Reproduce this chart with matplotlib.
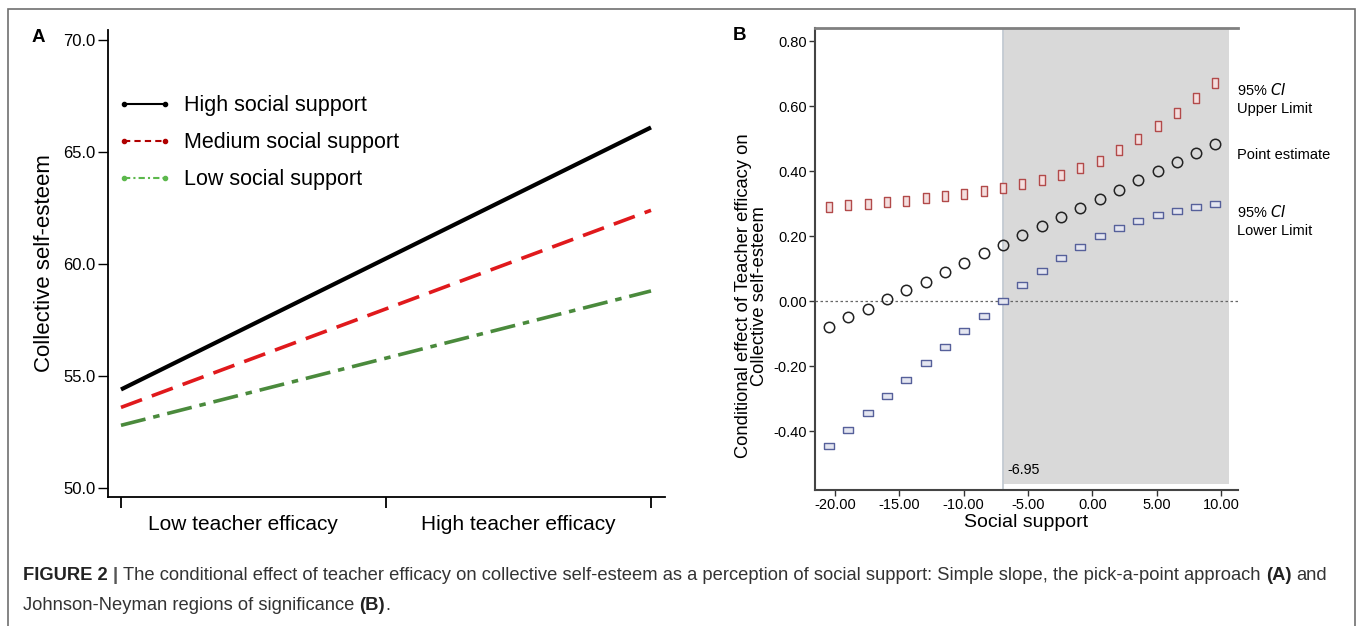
import numpy as np
import matplotlib
matplotlib.use("Agg")
import matplotlib.pyplot as plt
from matplotlib.lines import Line2D
from matplotlib.patches import Rectangle

plt.rcParams['font.family'] = ['Liberation Sans', 'DejaVu Sans']

# ---- panel A data
efficacy = [0, 1]
efficacy_labels = ['Low teacher efficacy', 'High teacher efficacy']
high_ss = [54.4, 66.1]
medium_ss = [53.6, 62.4]
low_ss = [52.8, 58.8]
a_yticks = [50.0, 55.0, 60.0, 65.0, 70.0]

# ---- panel B data (Johnson-Neyman)
social = [-20.45, -18.95, -17.45, -15.95, -14.45, -12.95, -11.45, -9.95, -8.45, -6.95,
          -5.45, -3.95, -2.45, -0.95, 0.55, 2.05, 3.55, 5.05, 6.55, 8.05, 9.55]
point_est = [-0.079, -0.050, -0.023, 0.006, 0.034, 0.060, 0.091, 0.119, 0.148, 0.174,
             0.203, 0.231, 0.259, 0.287, 0.316, 0.343, 0.372, 0.401, 0.428, 0.457, 0.485]
upper_ci = [0.290, 0.295, 0.300, 0.305, 0.310, 0.317, 0.324, 0.331, 0.339, 0.347,
            0.360, 0.372, 0.388, 0.409, 0.433, 0.464, 0.498, 0.538, 0.580, 0.626, 0.671]
lower_ci = [-0.446, -0.395, -0.344, -0.293, -0.241, -0.191, -0.142, -0.093, -0.044, 0.001,
            0.049, 0.092, 0.132, 0.168, 0.200, 0.225, 0.247, 0.264, 0.279, 0.290, 0.299]
jn_point = -6.95
b_xticks = [-20, -15, -10, -5, 0, 5, 10]
b_yticks = [-0.4, -0.2, 0.0, 0.2, 0.4, 0.6, 0.8]

W, H = 1358, 626
fig = plt.figure(figsize=(W / 100, H / 100), dpi=100)

# outer frame
fig.add_artist(Rectangle((8 / W, -0.1), (1355 - 8) / W, 1.1 - 9 / H, transform=fig.transFigure,
                         fill=False, edgecolor='#707070', lw=1.2))

# ================= Panel A
axA = fig.add_axes([108 / W, 1 - 497 / H, (665 - 108) / W, (497 - 30) / H])
axA.plot(efficacy, high_ss, color='black', lw=3.0, solid_capstyle='butt')
axA.plot(efficacy, medium_ss, color='#e0191c', lw=2.6, dashes=(6.2, 2.9))
axA.plot(efficacy, low_ss, color='#4a8a3c', lw=2.6, dashes=(7, 2.2, 1.8, 2.2))
axA.set_xlim(-0.0245, 1.0264)
axA.set_ylim(49.6, 70.45)
axA.set_yticks(a_yticks)
axA.set_yticklabels([f'{v:.1f}' for v in a_yticks])
axA.set_xticks([0, 0.5, 1])
axA.set_xticklabels(['', '', ''])
axA.set_xticks([0.23, 0.75], minor=True)
axA.set_xticklabels(efficacy_labels, minor=True, fontsize=15)
axA.tick_params(axis='x', which='minor', length=0, pad=13)
axA.tick_params(axis='x', which='major', length=8, width=1.3)
axA.tick_params(axis='y', length=7, width=1.0, labelsize=12, pad=2)
for s in ['top', 'right']:
    axA.spines[s].set_visible(False)
axA.spines['left'].set_linewidth(1.3)
axA.spines['bottom'].set_linewidth(1.3)
axA.set_ylabel('Collective self-esteem', fontsize=16, labelpad=6)

handles = [Line2D([0], [0], color='black', lw=1.5, marker='o', ms=3),
           Line2D([0], [0], color='#b00000', lw=1.5, ls=(0, (3, 2)), marker='o', ms=3),
           Line2D([0], [0], color='#5cb84c', lw=1.5, ls=(0, (3, 1.5, 1, 1.5)), marker='o', ms=3)]
axA.legend(handles, ['High social support', 'Medium social support', 'Low social support'],
           loc='upper left', bbox_to_anchor=(-0.01, 0.893), frameon=False, fontsize=15.5,
           numpoints=2, handlelength=2.5, handletextpad=0.6, labelspacing=0.75, borderaxespad=0.3)
fig.text(32 / W, 1 - 38 / H, 'A', fontsize=13.5, fontweight='bold', va='center', ha='left')

# ================= Panel B
axB = fig.add_axes([815 / W, 1 - 490 / H, (1238 - 815) / W, (490 - 28) / H])
axB.set_xlim(-21.55, 11.3)
axB.set_ylim(-0.581, 0.841)
axB.axvspan(jn_point, 10.6, ymin=0.012, ymax=0.997, color='#d9d9d9', lw=0, zorder=0)
axB.axvline(jn_point, color='#c3cad2', lw=1.3, zorder=1)
axB.axhline(0, color='#666666', lw=0.9, ls=(0, (2, 2)), zorder=1)

upper_marker = [(-0.28, -0.5), (0.28, -0.5), (0.28, 0.5), (-0.28, 0.5), (-0.28, -0.5)]
lower_marker = [(-0.5, -0.25), (0.5, -0.25), (0.5, 0.25), (-0.5, 0.25), (-0.5, -0.25)]
axB.plot(social, upper_ci, ls='none', marker=upper_marker, ms=7, mec='#b24a4a', mfc='#f4dede', mew=1.0, zorder=3)
axB.plot(social, lower_ci, ls='none', marker=lower_marker, ms=7.5, mec='#56609a', mfc='#e4e6f0', mew=1.0, zorder=3)
axB.plot(social, point_est, ls='none', marker='o', ms=7.5, mec='#222222', mfc='none', mew=1.1, zorder=3)

axB.set_xticks(b_xticks)
axB.set_xticklabels([f'{v:.2f}' for v in b_xticks])
axB.set_yticks(b_yticks)
axB.set_yticklabels([f'{v:.2f}' for v in b_yticks])
axB.tick_params(labelsize=10.5, length=4, width=1.0, color='#333333', pad=2)
axB.spines['right'].set_visible(False)
axB.spines['top'].set_color('#808080')
axB.spines['top'].set_linewidth(2.0)
for s in ['left', 'bottom']:
    axB.spines[s].set_color('#444444')
    axB.spines[s].set_linewidth(1.5)
axB.set_xlabel('Social support', fontsize=14, labelpad=1)
axB.set_ylabel('Conditional effect of Teacher efficacy on\nCollective self-esteem', fontsize=13.2,
               linespacing=0.95)
axB.yaxis.set_label_coords(-0.11, 0.42)
axB.text(jn_point + 0.35, -0.52, '-6.95', fontsize=10.3, va='center', ha='left')

tx = 1237 / W
fig.text(tx, 1 - 90 / H, '95% $\\mathit{CI}$', fontsize=10.5, va='center')
fig.text(tx, 1 - 109 / H, 'Upper Limit', fontsize=10.5, va='center')
fig.text(tx, 1 - 155 / H, 'Point estimate', fontsize=10.5, va='center')
fig.text(tx, 1 - 212 / H, '95% $\\mathit{CI}$', fontsize=10.5, va='center')
fig.text(tx, 1 - 231 / H, 'Lower Limit', fontsize=10.5, va='center')
fig.text(733 / W, 1 - 36 / H, 'B', fontsize=13.5, fontweight='bold', va='center', ha='left')

# ================= caption with bold runs
renderer = fig.canvas.get_renderer()


def text_width(s, weight, size):
    t = fig.text(0, 0, s, fontsize=size, fontweight=weight)
    w = t.get_window_extent(renderer=renderer).width
    t.remove()
    return w


def draw_runs(x_px, y_px, runs, size=13.25):
    space = text_width('a a', 'normal', size) - text_width('aa', 'normal', size)
    x = x_px
    for s, weight, color in runs:
        if s == ' ':
            x += space
            continue
        t = fig.text(x / W, 1 - y_px / H, s, fontsize=size, fontweight=weight, color=color,
                     va='center', ha='left')
        x += t.get_window_extent(renderer=renderer).width


cap1 = [('FIGURE 2', 'bold', '#222222'), (' ', None, None), ('|', 'bold', '#555555'), (' ', None, None),
        ('The conditional effect of teacher efficacy on collective self-esteem as a perception of social '
         'support: Simple slope, the pick-a-point approach', 'normal', '#333333'), (' ', None, None),
        ('(A)', 'bold', '#222222'), (' ', None, None), ('and', 'normal', '#333333')]
cap2 = [('Johnson-Neyman regions of significance', 'normal', '#333333'), (' ', None, None),
        ('(B)', 'bold', '#222222'), ('.', 'normal', '#333333')]
draw_runs(23, 576, cap1)
draw_runs(23, 606, cap2)

fig.savefig('out.png', dpi=100)
